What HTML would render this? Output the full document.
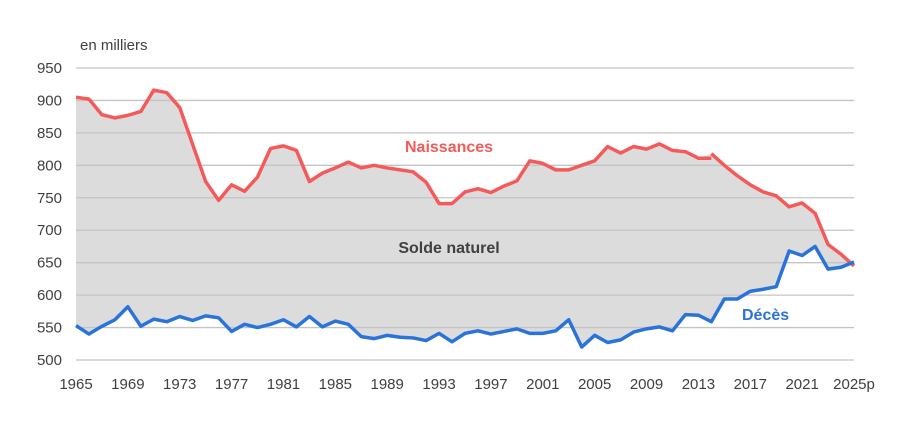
<!DOCTYPE html>
<html><head><meta charset="utf-8"><style>
body{margin:0;background:#fff;font-family:"Liberation Sans",sans-serif}
svg text{font-family:"Liberation Sans",sans-serif}
</style></head><body>
<svg id="chart" width="900" height="429" viewBox="0 0 900 429">
<g id="area"></g>
<g id="grid"></g>
<g id="lines"></g>
<g id="yticks"></g>
<g id="xticks"></g>
<text x="80" y="50" font-size="15" fill="#404040">en milliers</text>
<text x="405" y="152" font-size="16" font-weight="bold" fill="#f55a5a">Naissances</text>
<text x="449" y="253" font-size="16" font-weight="bold" fill="#404040" text-anchor="middle">Solde naturel</text>
<text x="742" y="320" font-size="16" font-weight="bold" fill="#2a74d9">Décès</text>
</svg>
<script>
const years=[];for(let y=1965;y<=2025;y++)years.push(y);
const births=[905,902,878,873,877,883,916,912,889,832,775,746,770,760,782,826,830,823,775,788,796,805,796,800,796,793,790,774,741,741,759,764,758,768,776,807,803,793,793,800,807,829,819,829,825,833,823,821,811,811];
const birthsNewYears=[2014,2015,2016,2017,2018,2019,2020,2021,2022,2023,2024,2025];
const birthsNew=[818,800,784,770,759,753,736,742,726,678,663,645];
const deaths=[553,540,552,562,582,552,563,559,567,561,568,565,544,555,550,555,562,551,567,551,560,555,536,533,538,535,534,530,541,528,541,545,540,544,548,541,541,545,562,520,538,527,531,543,548,551,545,570,569,559,594,594,606,609,613,668,661,675,640,643,651];
const yTicks=[500,550,600,650,700,750,800,850,900,950];
const xTickLabels=["1965","1969","1973","1977","1981","1985","1989","1993","1997","2001","2005","2009","2013","2017","2021","2025p"];
const NS="http://www.w3.org/2000/svg";
const X=y=>76+(y-1965)*(854-76)/60;
const Y=v=>360-(v-500)*(292/450);
function mk(tag,attrs,parent){const e=document.createElementNS(NS,tag);for(const k in attrs)e.setAttribute(k,attrs[k]);parent.appendChild(e);return e;}
const grid=document.getElementById('grid'),yt=document.getElementById('yticks'),xt=document.getElementById('xticks');
yTicks.forEach(v=>{
 const l=mk('line',{x1:76,x2:854,y1:Y(v),y2:Y(v),stroke:'#c4c4c4','stroke-width':1.3},grid);
 
 
 const t=mk('text',{x:62,y:Y(v)+5,'text-anchor':'end','font-size':15,fill:'#404040'},yt);
 t.textContent=v;
 
 
});
xTickLabels.forEach((s,i)=>{
 const t=mk('text',{x:X(1965+i*4),y:389,'text-anchor':'middle','font-size':15,fill:'#404040'},xt);
 t.textContent=s;
 
 
});
const bComb=years.map(y=>y<2014?births[y-1965]:birthsNew[birthsNewYears.indexOf(y)]);
let pts=years.map((y,i)=>X(y)+','+Y(bComb[i]));
for(let i=years.length-1;i>=0;i--)pts.push(X(years[i])+','+Y(deaths[i]));
const poly=mk('polygon',{points:pts.join(' '),fill:'#dcdcdc'},document.getElementById('area'));


const lines=document.getElementById('lines');
const l1=mk('polyline',{points:births.map((v,i)=>X(1965+i)+','+Y(v)).join(' '),fill:'none',stroke:'#f55a5a','stroke-width':3.5,'stroke-linejoin':'round'},lines);


const l2=mk('polyline',{points:birthsNew.map((v,i)=>X(birthsNewYears[i])+','+Y(v)).join(' '),fill:'none',stroke:'#f55a5a','stroke-width':3.5,'stroke-linejoin':'round'},lines);


const l3=mk('polyline',{points:deaths.map((v,i)=>X(years[i])+','+Y(v)).join(' '),fill:'none',stroke:'#2a74d9','stroke-width':3.5,'stroke-linejoin':'round'},lines);


</script>
</body></html>
